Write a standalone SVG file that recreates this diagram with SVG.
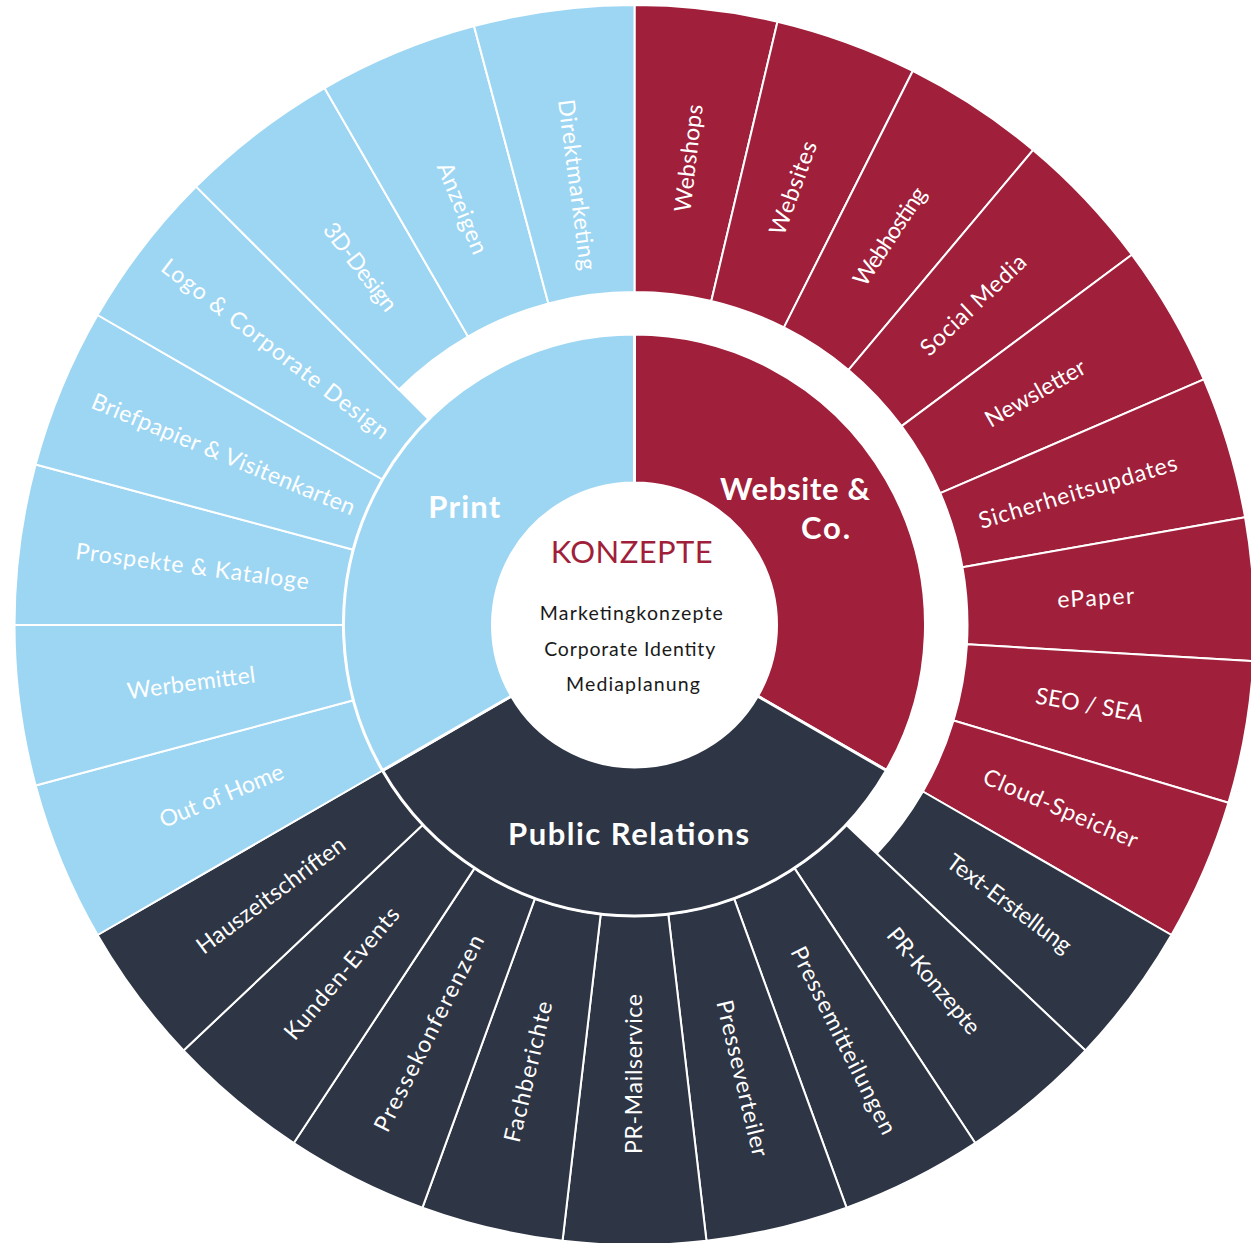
<svg xmlns="http://www.w3.org/2000/svg" width="1251" height="1243" viewBox="0 0 1251 1243">
<style>
.web{fill:#A01F3A}
.pr{fill:#2E3544}
.print{fill:#9DD6F3}
.seg{stroke:#fff;stroke-width:2;stroke-linejoin:round}
.core{stroke:#fff;stroke-width:3;stroke-linejoin:round}
.lbl{font-family:Lato,"Noto Sans",sans-serif;font-size:23px;fill:#fff;text-anchor:middle}
.cat{font-family:Lato,"Noto Sans",sans-serif;font-weight:700;font-size:31px;fill:#fff;text-anchor:middle}
.mid{font-family:Lato,"Noto Sans",sans-serif;font-size:19.5px;fill:#1a1a1a;text-anchor:middle}
.title{font-family:Lato,"Noto Sans",sans-serif;font-size:31px;fill:#A01F3A;text-anchor:middle}
</style>
<defs>
<path id="w13" d="M0,-333 L0,-620 A620,620 0 0 1 142.98,-603.29 L76.80,-324.02 A333,333 0 0 0 0,-333 Z"/>
<path id="w13t" d="M0,-291 L0,-620 A620,620 0 0 1 142.98,-603.29 L67.11,-283.16 A291,291 0 0 0 0,-291 Z"/>
<path id="w15" d="M0,-333 L0,-620 A620,620 0 0 1 160.47,-598.87 L86.19,-321.65 A333,333 0 0 0 0,-333 Z"/>
<path id="w15t" d="M0,-291 L0,-620 A620,620 0 0 1 160.47,-598.87 L75.32,-281.08 A291,291 0 0 0 0,-291 Z"/>
<path id="w120" d="M0,-142 L0,-291 A291,291 0 0 1 252.01,145.5 L122.98,71 A142,142 0 0 0 0,-142 Z"/>
</defs>
<rect width="1251" height="1243" fill="#fff"/>

<g id="outer-website" transform="translate(634.5,625)">
<g id="n-webshops"><use href="#w13" class="web seg" transform="rotate(0)"/><text class="lbl" transform="rotate(-83.333)" x="470" y="7.5" textLength="108">Webshops</text></g>
<g id="n-websites"><use href="#w13" class="web seg" transform="rotate(13.333)"/><text class="lbl" transform="rotate(-70)" x="465" y="7.5" textLength="98">Websites</text></g>
<g id="n-webhosting"><use href="#w13" class="web seg" transform="rotate(26.667)"/><text class="lbl" transform="rotate(-56.667)" x="465" y="7.5" textLength="113">Webhosting</text></g>
<g id="n-socialmedia"><use href="#w13" class="web seg" transform="rotate(40)"/><text class="lbl" transform="rotate(-43.333)" x="466" y="7.5" textLength="136">Social Media</text></g>
<g id="n-newsletter"><use href="#w13" class="web seg" transform="rotate(53.333)"/><text class="lbl" transform="rotate(-30)" x="463" y="7.5" textLength="112">Newsletter</text></g>
<g id="n-sicherheitsupdates"><use href="#w13" class="web seg" transform="rotate(66.667)"/><text class="lbl" transform="rotate(-16.667)" x="463" y="7.5" textLength="206">Sicherheitsupdates</text></g>
<g id="n-epaper"><use href="#w13" class="web seg" transform="rotate(80)"/><text class="lbl" transform="rotate(-3.333)" x="462" y="7.5" textLength="77">ePaper</text></g>
<g id="n-seosea"><use href="#w13" class="web seg" transform="rotate(93.333)"/><text class="lbl" transform="rotate(10)" x="462" y="7.5" textLength="109">SEO / SEA</text></g>
<g id="n-cloudspeicher"><use href="#w13" class="web seg" transform="rotate(106.667)"/><text class="lbl" transform="rotate(23.333)" x="464" y="7.5" textLength="166">Cloud-Speicher</text></g>
</g>

<g id="outer-pr" transform="translate(634.5,625)">
<g id="n-texterstellung"><use href="#w13" class="pr seg" transform="rotate(120)"/><text class="lbl" transform="rotate(36.667)" x="467" y="7.5" textLength="149">Text-Erstellung</text></g>
<g id="n-prkonzepte"><use href="#w13t" class="pr seg" transform="rotate(133.333)"/><text class="lbl" transform="rotate(50)" x="465" y="7.5" textLength="131">PR-Konzepte</text></g>
<g id="n-pressemitteilungen"><use href="#w13t" class="pr seg" transform="rotate(146.667)"/><text class="lbl" transform="rotate(63.333)" x="465" y="7.5" textLength="207">Pressemitteilungen</text></g>
<g id="n-presseverteiler"><use href="#w13t" class="pr seg" transform="rotate(160)"/><text class="lbl" transform="rotate(76.667)" x="466" y="7.5" textLength="160">Presseverteiler</text></g>
<g id="n-prmailservice"><use href="#w13t" class="pr seg" transform="rotate(173.333)"/><text class="lbl" transform="rotate(270)" x="-449" y="7.5" textLength="160">PR-Mailservice</text></g>
<g id="n-fachberichte"><use href="#w13t" class="pr seg" transform="rotate(186.667)"/><text class="lbl" transform="rotate(283.333)" x="-459" y="7.5" textLength="144">Fachberichte</text></g>
<g id="n-pressekonferenzen"><use href="#w13t" class="pr seg" transform="rotate(200)"/><text class="lbl" transform="rotate(296.667)" x="-457" y="7.5" textLength="217">Pressekonferenzen</text></g>
<g id="n-kundenevents"><use href="#w13t" class="pr seg" transform="rotate(213.333)"/><text class="lbl" transform="rotate(310)" x="-455" y="7.5" textLength="165">Kunden-Events</text></g>
<g id="n-hauszeitschriften"><use href="#w13t" class="pr seg" transform="rotate(226.667)"/><text class="lbl" transform="rotate(323.333)" x="-453" y="7.5" textLength="179">Hauszeitschriften</text></g>
</g>

<g id="outer-print" transform="translate(634.5,625)">
<g id="n-outofhome"><use href="#w15t" class="print seg" transform="rotate(240)"/><text class="lbl" transform="rotate(337.5)" x="-447" y="7.5" textLength="132">Out of Home</text></g>
<g id="n-werbemittel"><use href="#w15t" class="print seg" transform="rotate(255)"/><text class="lbl" transform="rotate(352.5)" x="-447" y="7.5" textLength="129">Werbemittel</text></g>
<g id="n-prospekte"><use href="#w15t" class="print seg" transform="rotate(270)"/><text class="lbl" transform="rotate(7.5)" x="-446" y="7.5" textLength="235">Prospekte &amp; Kataloge</text></g>
<g id="n-briefpapier"><use href="#w15t" class="print seg" transform="rotate(285)"/><text class="lbl" transform="rotate(22.5)" x="-445" y="7.5" textLength="283">Briefpapier &amp; Visitenkarten</text></g>
<g id="n-logo"><use href="#w15t" class="print seg" transform="rotate(300)"/><text class="lbl" transform="rotate(37.5)" x="-453" y="7.5" textLength="280">Logo &amp; Corporate Design</text></g>
<g id="n-3ddesign"><use href="#w15" class="print seg" transform="rotate(315)"/><text class="lbl" transform="rotate(52.5)" x="-451" y="7.5" textLength="105">3D-Design</text></g>
<g id="n-anzeigen"><use href="#w15" class="print seg" transform="rotate(330)"/><text class="lbl" transform="rotate(67.5)" x="-451" y="7.5" textLength="97">Anzeigen</text></g>
<g id="n-direktmarketing"><use href="#w15" class="print seg" transform="rotate(345)"/><text class="lbl" transform="rotate(82.5)" x="-444" y="7.5" textLength="172">Direktmarketing</text></g>
</g>

<g id="n-website-co">
<use href="#w120" class="web core" transform="translate(634.5,625) rotate(0)"/>
<text class="cat" x="795" y="500" textLength="150">Website &amp;</text>
<text class="cat" x="825.5" y="539" textLength="49">Co.</text>
</g>
<g id="n-public-relations">
<use href="#w120" class="pr core" transform="translate(634.5,625) rotate(120)"/>
<text class="cat" x="628.5" y="845" textLength="241">Public Relations</text>
</g>
<g id="n-print">
<use href="#w120" class="print core" transform="translate(634.5,625) rotate(240)"/>
<text class="cat" x="464.3" y="517.5" textLength="72">Print</text>
</g>

<g id="n-konzepte">
<text class="title" x="631.7" y="562.7" textLength="162">KONZEPTE</text>
<text class="mid" x="631.3" y="620" textLength="183">Marketingkonzepte</text>
<text class="mid" x="629.7" y="655.7" textLength="171">Corporate Identity</text>
<text class="mid" x="633" y="690.7" textLength="134">Mediaplanung</text>
</g>
</svg>
